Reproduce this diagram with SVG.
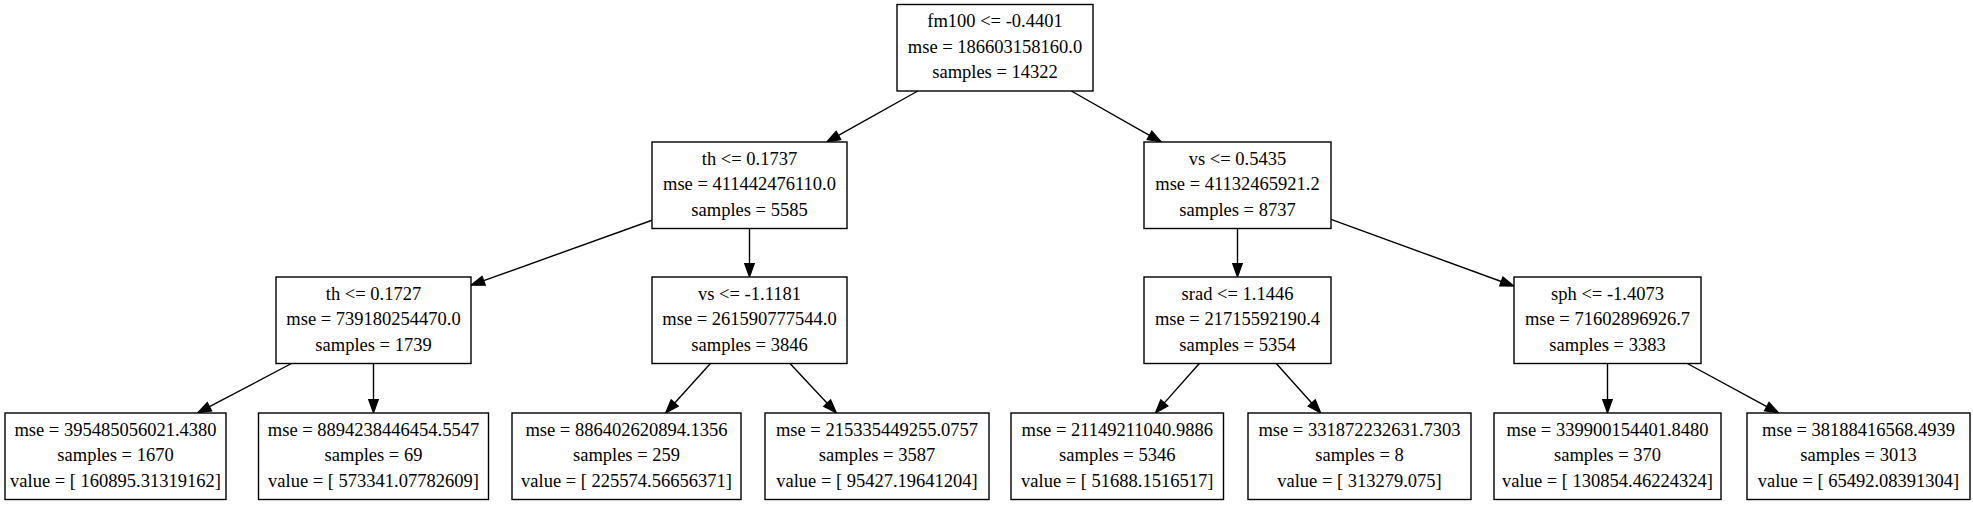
<svg xmlns="http://www.w3.org/2000/svg" width="1973" height="507" viewBox="0 0 1973 507">
<defs>
<style>
.box{fill:#fff;stroke:#000;stroke-width:1.4}
text{font-family:"Liberation Serif","Times New Roman",serif;font-size:18.5px;fill:#000;text-anchor:middle}
.edge{fill:none;stroke:#000;stroke-width:1.4}
</style>
<marker id="arr" markerUnits="userSpaceOnUse" markerWidth="16" markerHeight="12" refX="0" refY="0" viewBox="0 -6 16 12" orient="auto" overflow="visible">
<path d="M0,-4.8 L13.5,0 L0,4.8 z" fill="#000" stroke="#000" stroke-width="1.2"/>
</marker>
</defs>
<rect width="1973" height="507" fill="#fff"/>
<g id="connectors">
<path class="edge" d="M917.8,91 L838.5,135.4" marker-end="url(#arr)"/>
<path class="edge" d="M1071.3,91 L1149.5,135.3" marker-end="url(#arr)"/>
<path class="edge" d="M652,220.25 L483.7,280.7" marker-end="url(#arr)"/>
<path class="edge" d="M749.5,228.5 L749.5,263.5" marker-end="url(#arr)"/>
<path class="edge" d="M1237.5,228.5 L1237.5,263.5" marker-end="url(#arr)"/>
<path class="edge" d="M1331,219.4 L1501.3,281.5" marker-end="url(#arr)"/>
<path class="edge" d="M291.45,363.5 L209.5,406.7" marker-end="url(#arr)"/>
<path class="edge" d="M373.5,363.5 L373.5,399.5" marker-end="url(#arr)"/>
<path class="edge" d="M710.4,363.5 L674.7,403" marker-end="url(#arr)"/>
<path class="edge" d="M790,363.5 L827.2,403.15" marker-end="url(#arr)"/>
<path class="edge" d="M1199.3,363.5 L1164.4,402.9" marker-end="url(#arr)"/>
<path class="edge" d="M1276.3,363.5 L1311.7,402.95" marker-end="url(#arr)"/>
<path class="edge" d="M1607.5,363.5 L1607.5,399.5" marker-end="url(#arr)"/>
<path class="edge" d="M1687.3,363.5 L1766.8,406.6" marker-end="url(#arr)"/>
</g>
<g id="node0"><rect class="box" x="897" y="4.5" width="196" height="86.5"/>
<text x="995" y="27.25">fm100 &lt;= -0.4401</text><text x="995" y="52.75">mse = 186603158160.0</text><text x="995" y="78.25">samples = 14322</text></g>
<g id="node1"><rect class="box" x="652" y="142" width="195" height="86.5"/>
<text x="749.5" y="164.75">th &lt;= 0.1737</text><text x="749.5" y="190.25">mse = 411442476110.0</text><text x="749.5" y="215.75">samples = 5585</text></g>
<g id="node2"><rect class="box" x="1144" y="142" width="187" height="86.5"/>
<text x="1237.5" y="164.75">vs &lt;= 0.5435</text><text x="1237.5" y="190.25">mse = 41132465921.2</text><text x="1237.5" y="215.75">samples = 8737</text></g>
<g id="node3"><rect class="box" x="276" y="277" width="195" height="86.5"/>
<text x="373.5" y="299.75">th &lt;= 0.1727</text><text x="373.5" y="325.25">mse = 739180254470.0</text><text x="373.5" y="350.75">samples = 1739</text></g>
<g id="node4"><rect class="box" x="652" y="277" width="195" height="86.5"/>
<text x="749.5" y="299.75">vs &lt;= -1.1181</text><text x="749.5" y="325.25">mse = 261590777544.0</text><text x="749.5" y="350.75">samples = 3846</text></g>
<g id="node5"><rect class="box" x="1144" y="277" width="187" height="86.5"/>
<text x="1237.5" y="299.75">srad &lt;= 1.1446</text><text x="1237.5" y="325.25">mse = 21715592190.4</text><text x="1237.5" y="350.75">samples = 5354</text></g>
<g id="node6"><rect class="box" x="1514" y="277" width="187" height="86.5"/>
<text x="1607.5" y="299.75">sph &lt;= -1.4073</text><text x="1607.5" y="325.25">mse = 71602896926.7</text><text x="1607.5" y="350.75">samples = 3383</text></g>
<g id="leaf1"><rect class="box" x="5" y="413" width="221" height="86.5"/>
<text x="115.5" y="435.75">mse = 395485056021.4380</text><text x="115.5" y="461.25">samples = 1670</text><text x="115.5" y="486.75">value = [ 160895.31319162]</text></g>
<g id="leaf2"><rect class="box" x="258.5" y="413" width="230" height="86.5"/>
<text x="373.5" y="435.75">mse = 8894238446454.5547</text><text x="373.5" y="461.25">samples = 69</text><text x="373.5" y="486.75">value = [ 573341.07782609]</text></g>
<g id="leaf3"><rect class="box" x="512" y="413" width="229" height="86.5"/>
<text x="626.5" y="435.75">mse = 886402620894.1356</text><text x="626.5" y="461.25">samples = 259</text><text x="626.5" y="486.75">value = [ 225574.56656371]</text></g>
<g id="leaf4"><rect class="box" x="765" y="413" width="224" height="86.5"/>
<text x="877" y="435.75">mse = 215335449255.0757</text><text x="877" y="461.25">samples = 3587</text><text x="877" y="486.75">value = [ 95427.19641204]</text></g>
<g id="leaf5"><rect class="box" x="1011" y="413" width="212.5" height="86.5"/>
<text x="1117.25" y="435.75">mse = 21149211040.9886</text><text x="1117.25" y="461.25">samples = 5346</text><text x="1117.25" y="486.75">value = [ 51688.1516517]</text></g>
<g id="leaf6"><rect class="box" x="1248" y="413" width="223" height="86.5"/>
<text x="1359.5" y="435.75">mse = 331872232631.7303</text><text x="1359.5" y="461.25">samples = 8</text><text x="1359.5" y="486.75">value = [ 313279.075]</text></g>
<g id="leaf7"><rect class="box" x="1494" y="413" width="227" height="86.5"/>
<text x="1607.5" y="435.75">mse = 339900154401.8480</text><text x="1607.5" y="461.25">samples = 370</text><text x="1607.5" y="486.75">value = [ 130854.46224324]</text></g>
<g id="leaf8"><rect class="box" x="1747" y="413" width="223" height="86.5"/>
<text x="1858.5" y="435.75">mse = 38188416568.4939</text><text x="1858.5" y="461.25">samples = 3013</text><text x="1858.5" y="486.75">value = [ 65492.08391304]</text></g>
</svg>
